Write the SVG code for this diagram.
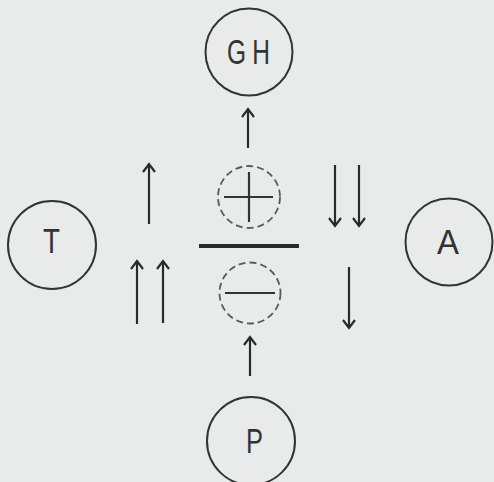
<svg xmlns="http://www.w3.org/2000/svg" width="494" height="482" viewBox="0 0 494 482">
  <defs>
    <marker id="head" viewBox="-10 -8 12 16" refX="0" refY="0" markerWidth="12" markerHeight="16" markerUnits="userSpaceOnUse" orient="auto">
      <path d="M -8 -6 L 0 0 L -8 6" fill="none" stroke="#2a2a2a" stroke-width="2.2" stroke-linejoin="miter"/>
    </marker>
    <style>
      .node { fill: none; stroke: #333; stroke-width: 2; }
      .label { font-family: "Liberation Sans", Arial, sans-serif; font-size: 35px; fill: #333; }
      .arrow { stroke: #2a2a2a; stroke-width: 2.2; fill: none; marker-end: url(#head); }
      .charge { fill: none; stroke: #5a5a5a; stroke-width: 1.8; stroke-dasharray: 7 4; }
      .sign { stroke: #333; stroke-width: 2.2; }
    </style>
  </defs>

  <rect width="494" height="482" fill="#e9ebea"/>

  <g id="GH">
    <circle class="node" cx="249" cy="52" r="43.5"/>
    <!-- condensed lettering: glyphs narrowed, letters spread apart -->
    <text class="label" transform="translate(227 64) scale(0.7 1)"><tspan x="0">G</tspan><tspan x="36">H</tspan></text>
  </g>
  <g id="T">
    <circle class="node" cx="52" cy="245" r="44"/>
    <text class="label" x="43" y="253" textLength="17" lengthAdjust="spacingAndGlyphs">T</text>
  </g>
  <g id="A">
    <circle class="node" cx="449" cy="242" r="43.5"/>
    <text class="label" x="437" y="254" textLength="22" lengthAdjust="spacingAndGlyphs">A</text>
  </g>
  <g id="P">
    <circle class="node" cx="251" cy="441" r="44"/>
    <text class="label" x="246" y="453" textLength="17" lengthAdjust="spacingAndGlyphs">P</text>
  </g>

  <!-- charge balance: positive over negative -->
  <g id="balance">
    <circle class="charge" cx="249" cy="197" r="31"/>
    <line class="sign" x1="224" y1="197" x2="273" y2="197"/>
    <line class="sign" x1="249" y1="172" x2="249" y2="222"/>
    <line x1="199" y1="246" x2="299" y2="246" stroke="#2a2a2a" stroke-width="4"/>
    <circle class="charge" cx="250" cy="293" r="30.5"/>
    <line class="sign" x1="225" y1="293" x2="275" y2="293"/>
  </g>

  <g id="connectors">
    <line class="arrow" x1="248" y1="148" x2="248" y2="109"/>
    <line class="arrow" x1="250" y1="376" x2="250" y2="337"/>
    <line class="arrow" x1="149" y1="224" x2="149" y2="164"/>
    <line class="arrow" x1="137" y1="324" x2="137" y2="261"/>
    <line class="arrow" x1="163" y1="323" x2="163" y2="261"/>
    <line class="arrow" x1="335" y1="165" x2="335" y2="226"/>
    <line class="arrow" x1="359" y1="165" x2="359" y2="226"/>
    <line class="arrow" x1="349" y1="267" x2="349" y2="328"/>
  </g>
</svg>
